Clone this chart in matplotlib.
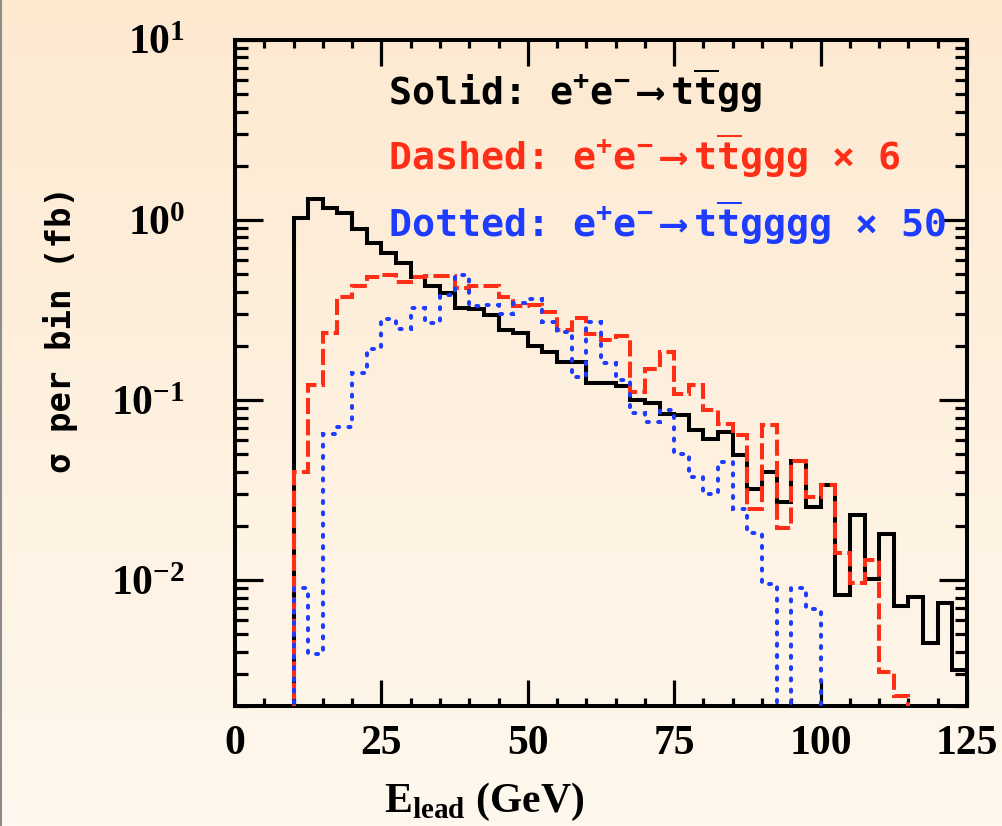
import numpy as np
import matplotlib
matplotlib.use("Agg")
import matplotlib.pyplot as plt
from matplotlib.lines import Line2D
from matplotlib.ticker import LogLocator, MultipleLocator, NullFormatter

# bins of 2.5 GeV from 0 to 125
bin_width = 2.5
n_bins = 50

# sigma per bin (fb); bins below 10 GeV are empty
solid_ttgg = [0, 0, 0, 0,
              1.02, 1.31, 1.16, 1.10, 0.888, 0.742, 0.658, 0.579, 0.480, 0.430,
              0.395, 0.326, 0.320, 0.296, 0.246, 0.236, 0.199, 0.184, 0.162, 0.162,
              0.124, 0.125, 0.119, 0.100, 0.0966, 0.0833, 0.0822, 0.0681, 0.0609, 0.0667,
              0.0496, 0.0322, 0.0400, 0.0271, 0.0459, 0.0255, 0.0339, 0.0083, 0.0230, 0.0101,
              0.0180, 0.0072, 0.0081, 0.0045, 0.0075, 0.00317]

dashed_ttggg_x6 = [0, 0, 0, 0,
                   0.040, 0.121, 0.235, 0.372, 0.430, 0.480, 0.495, 0.454, 0.480, 0.490,
                   0.490, 0.420, 0.431, 0.428, 0.375, 0.334, 0.338, 0.309, 0.245, 0.284,
                   0.234, 0.216, 0.227, 0.111, 0.148, 0.186, 0.108, 0.121, 0.088, 0.074,
                   0.064, 0.0249, 0.073, 0.0196, 0.0459, 0.0290, 0.0339, 0.0142, 0.0096, 0.0129,
                   0.0031, 0.00228, 0, 0, 0, 0]

dotted_ttgggg_x50 = [0, 0, 0, 0,
                     0.0090, 0.0039, 0.0645, 0.0710, 0.142, 0.191, 0.281, 0.247, 0.326, 0.267,
                     0.383, 0.492, 0.335, 0.337, 0.302, 0.348, 0.363, 0.273, 0.240, 0.135,
                     0.271, 0.161, 0.130, 0.0851, 0.0757, 0.0880, 0.0500, 0.0372, 0.0300, 0.0454,
                     0.0249, 0.0182, 0.0095, 0, 0.0090, 0.0069, 0, 0, 0, 0,
                     0, 0, 0, 0, 0, 0]

x_ticks = [0, 25, 50, 75, 100, 125]

arrow = "e$^{+}$e$^{-}$$\\,\\longrightarrow\\,$t$\\overline{\\mathdefault{t}}$"
legend_lines = [
    ("Solid: " + arrow + "gg", "black"),
    ("Dashed: " + arrow + "ggg \u00d7 6", "#ff2e17"),
    ("Dotted: " + arrow + "gggg \u00d7 50", "#1d3cff"),
]

plt.rcParams['font.family'] = ['DejaVu Sans Mono', 'DejaVu Sans']
plt.rcParams['font.weight'] = 'bold'
plt.rcParams['axes.labelweight'] = 'bold'
plt.rcParams['mathtext.fontset'] = 'custom'
plt.rcParams['mathtext.rm'] = 'DejaVu Sans Mono:bold'
plt.rcParams['mathtext.it'] = 'DejaVu Sans Mono:bold'
plt.rcParams['mathtext.bf'] = 'DejaVu Sans Mono:bold'
plt.rcParams['mathtext.sf'] = 'DejaVu Sans:bold'

fig = plt.figure(figsize=(10.03, 8.26), dpi=100)

# peach gradient background
bg = fig.add_axes([0, 0, 1, 1], zorder=-10)
top = np.array([253, 233, 208]) / 255
bottom = np.array([255, 248, 238]) / 255
t = np.linspace(0, 1, 256)[:, None]
grad = (top * (1 - t) + bottom * t)[:, None, :]
bg.imshow(grad, aspect='auto', extent=[0, 1, 0, 1])
bg.axis('off')
fig.add_artist(Line2D([0.001, 0.001], [0, 1], color='#8c8c8c', lw=1.5))

ax = fig.add_axes([0.2343, 0.1453, 0.7298, 0.8063])
ax.patch.set_alpha(0)

edges = np.arange(n_bins + 1) * bin_width
floor = 1e-6

def draw(vals, **kw):
    v = np.array(vals, dtype=float)
    v = np.where(v > 0, v, floor)
    return ax.stairs(v, edges, baseline=None, **kw)

draw(solid_ttgg, color='black', lw=2.9, zorder=3)
draw(dashed_ttggg_x6, color='#ff2e17', lw=2.9, linestyle=(0, (4.0, 1.3)), zorder=4)
p = draw(dotted_ttgggg_x50, color='#1d3cff', lw=2.9, linestyle=(0, (0.5, 2.3)), zorder=5)
p.set_capstyle('round')

ax.set_yscale('log')
ax.set_xlim(0, 125)
ax.set_ylim(0.002, 10)
ax.set_xticks(x_ticks)
ax.xaxis.set_minor_locator(MultipleLocator(5))
ax.yaxis.set_major_locator(LogLocator(base=10, numticks=10))
ax.yaxis.set_minor_locator(LogLocator(base=10, subs=np.arange(2, 10), numticks=20))
ax.yaxis.set_minor_formatter(NullFormatter())

for s in ax.spines.values():
    s.set_linewidth(2.9)

ax.tick_params(axis='both', which='both', direction='in', top=True, right=True,
               width=2.3, labelfontfamily='Liberation Serif', labelsize=30)
ax.tick_params(axis='x', which='major', length=19, pad=14)
ax.tick_params(axis='x', which='minor', length=6)
ax.tick_params(axis='y', which='major', length=20, pad=36)
ax.tick_params(axis='y', which='minor', length=9)

ax.set_xlabel("E$_{\\mathdefault{lead}}$ (GeV)", fontfamily='Liberation Serif',
              fontsize=30, fontweight='bold')
ax.xaxis.set_label_coords(0.34, -0.112)
ax.set_ylabel("\u03c3 per bin (fb)", fontsize=24.5, fontweight='bold')
ax.yaxis.set_label_coords(-0.214, 0.566)

ys = [0.9024, 0.8048, 0.7042]
for (txt, col), y in zip(legend_lines, ys):
    ax.text(0.209, y, txt, color=col, fontsize=27.5, transform=ax.transAxes,
            ha='left', va='baseline', zorder=6)

fig.savefig('out.png', dpi=100)
